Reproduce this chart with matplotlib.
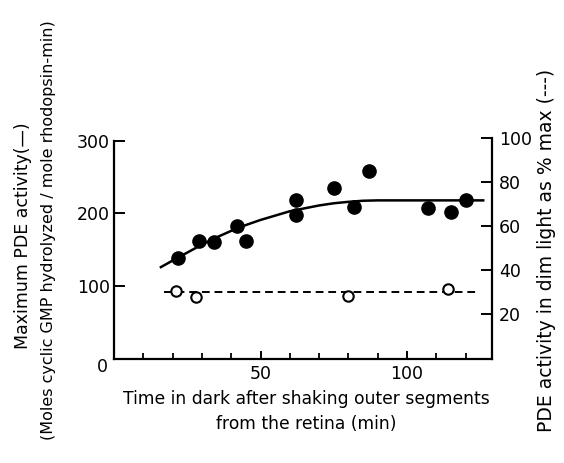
import numpy as np
import matplotlib
matplotlib.use('Agg')
import matplotlib.pyplot as plt

plt.rcParams['font.family'] = ['DejaVu Sans']

# filled circles: maximum PDE activity (left axis)
time_max = [22, 29, 34, 42, 45, 62, 62, 75, 82, 87, 107, 115, 120]
pde_max = [138, 162, 160, 182, 162, 218, 198, 235, 209, 259, 208, 202, 219]

# solid curve
curve_t = [16, 20, 25, 30, 35, 40, 45, 50, 55, 60, 65, 70, 75, 80, 85, 90, 100, 110, 120, 126]
curve_y = [126, 135, 146, 157, 167, 176, 184, 191, 197, 203, 207, 211, 214, 216, 217.5, 218, 218, 218, 218, 218]

# open circles: activity in dim light, % of max (right axis)
time_dim = [21, 28, 80, 114]
pde_dim = [30.5, 28, 28.5, 31.5]
dash_t = [17, 124]
dash_y = [30, 30]

fig = plt.figure(figsize=(5.64, 4.63), dpi=100)
ax = fig.add_axes([114/564, (463-358.5)/463, (492-114)/564, (358.5-138)/463])
ax2 = ax.twinx()

ax.plot(curve_t, curve_y, color='black', lw=1.8, zorder=2)
ax.plot(time_max, pde_max, 'o', color='black', ms=9.5, zorder=3)

ax2.plot(dash_t, dash_y, color='black', lw=1.4, dashes=(4, 2.5), zorder=2)
ax2.plot(time_dim, pde_dim, 'o', mfc='white', mec='black', mew=1.5, ms=7.5, zorder=3)

ax.set_xlim(0, 129)
ax.set_ylim(0, 304)
ax2.set_ylim(0, 100)

for a in (ax, ax2):
    a.spines['top'].set_visible(False)
ax.spines['right'].set_visible(False)
ax2.spines['left'].set_visible(False)
ax2.spines['bottom'].set_visible(False)
for a in (ax, ax2):
    for s in a.spines.values():
        s.set_linewidth(1.6)
ax.spines['left'].set_bounds(0, 300)

ax.set_yticks([100, 200, 300])
ax.set_yticklabels(['100', '200', '300'])
ax.set_xticks([50, 100])
ax.set_xticklabels(['50', '100'])
ax.set_xticks(np.arange(10, 130, 10), minor=True)
ax.tick_params(axis='x', which='major', direction='in', length=6, width=1.4, labelsize=12.5, pad=5)
ax.tick_params(axis='x', which='minor', direction='in', length=4, width=1.3)
ax.tick_params(axis='y', direction='in', length=8, width=1.4, labelsize=12.5, pad=3)

ax2.set_yticks([20, 40, 60, 80, 100])
ax2.set_yticklabels(['20', '40', '60', '80', '100'])
ax2.tick_params(axis='y', direction='in', length=8, width=1.4, labelsize=12.5, pad=5)

# shared origin label
fig.text(102/564, 1 - 367/463, '0', fontsize=12.5, ha='center', va='center')

fig.text(306/564, 1 - 399/463, 'Time in dark after shaking outer segments',
         fontsize=12.3, ha='center', va='center')
fig.text(306/564, 1 - 424/463, 'from the retina (min)',
         fontsize=12.3, ha='center', va='center')

fig.text(23/564, 1 - 236/463, 'Maximum PDE activity(—)', fontsize=12.5,
         rotation=90, ha='center', va='center')
fig.text(49/564, 1 - 230/463, '(Moles cyclic GMP hydrolyzed / mole rhodopsin-min)',
         fontsize=11.5, rotation=90, ha='center', va='center')
fig.text(546/564, 1 - 250/463, 'PDE activity in dim light as % max (---)',
         fontsize=13.5, rotation=90, ha='center', va='center')

fig.savefig('out.png', dpi=100)
